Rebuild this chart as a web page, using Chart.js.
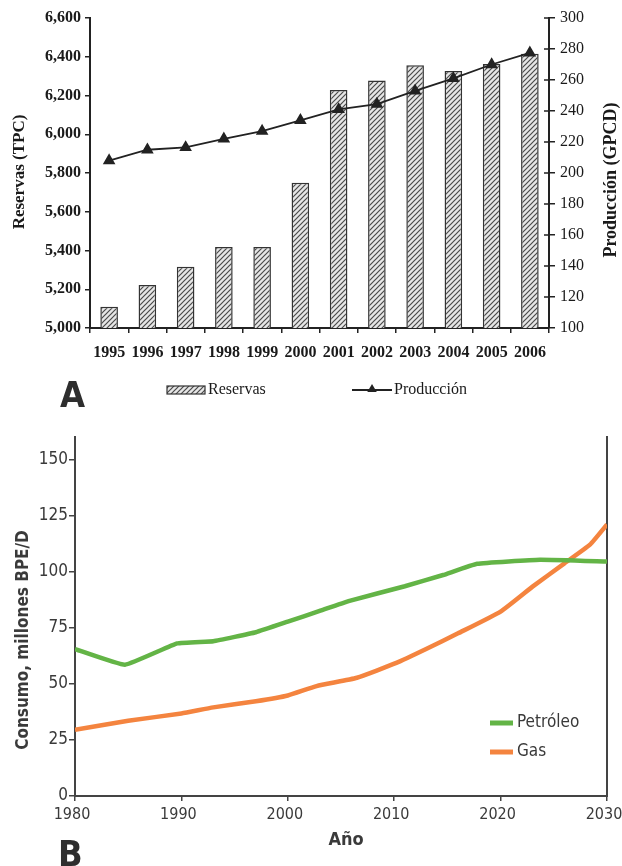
<!DOCTYPE html>
<html>
<head>
<meta charset="utf-8">
<script src="https://cdn.jsdelivr.net/npm/chart.js@4.4.1/dist/chart.umd.min.js"></script>
<style>
    html, body { margin: 0; padding: 0; background: #fff; }
    #wrap { position: relative; width: 622px; height: 866px; overflow: hidden; background: #fff; }
    .panel { position: absolute; left: 0; width: 622px; }
    #panelA { top: 0; height: 420px; }
    #panelB { top: 420px; height: 446px; }
</style>
</head>
<body>
<div id="wrap">
    <div class="panel" id="panelA"><canvas id="chartA" width="622" height="420"></canvas></div>
    <div class="panel" id="panelB"><canvas id="chartB" width="622" height="446"></canvas></div>
</div>
<script>
(function () {
    'use strict';

    // Panel A - reservas (bars, left axis) and produccion (line, right axis)
    var years = ['1995', '1996', '1997', '1998', '1999', '2000', '2001', '2002', '2003', '2004', '2005', '2006'];
    var reservas = [5110, 5222, 5316, 5418, 5418, 5750, 6228, 6278, 6356, 6326, 6362, 6416];
    var produccion = [208, 215, 216.5, 222, 227, 234, 241, 244.5, 253, 261, 270, 277.5];
    var reservasRange = [5000, 6600, 200];
    var produccionRange = [100, 300, 20];

    // Panel B - consumo (millones BPE/D)
    var petroleoYears = [1980, 1984.7, 1989.6, 1993, 1997, 2000, 2003, 2005.8, 2011, 2014.6, 2017.8, 2023.7, 2030];
    var petroleoValues = [65.5, 58.5, 68, 69, 73, 77.7, 82.5, 87, 93.5, 98.5, 103.5, 105.3, 104.5];
    var gasYears = [1980, 1985, 1990, 1993, 1997, 2000, 2002.7, 2006.5, 2010.2, 2013, 2016, 2020, 2023, 2026, 2028.4, 2030];
    var gasValues = [29.5, 33.5, 36.8, 39.5, 42.2, 44.8, 49, 52.7, 59.3, 65.5, 72.5, 82.2, 93.3, 103.7, 112, 121];
    var consumoRange = [0, 160, 25];
    var yearRange = [1980, 2030, 10];

    var serif = '"Liberation Serif", "DejaVu Serif", serif';
    var narrow = '"Liberation Sans Narrow", "DejaVu Sans Condensed", "Roboto", sans-serif';

    /**
     * Diagonal hatch fill for the bars.
     */
    function makeHatch(ctx) {
        var c = document.createElement('canvas');
        c.width = 5;
        c.height = 5;
        var g = c.getContext('2d');
        g.fillStyle = '#e6e6e6';
        g.fillRect(0, 0, 5, 5);
        g.strokeStyle = '#4a4a4a';
        g.lineWidth = 1.2;
        g.beginPath();
        g.moveTo(-1, 6); g.lineTo(6, -1);
        g.moveTo(-1, 1); g.lineTo(1, -1);
        g.moveTo(4, 6); g.lineTo(6, 4);
        g.stroke();
        return ctx.createPattern(c, 'repeat');
    }

    function vText(ctx, text, x, y, font, color) {
        ctx.save();
        ctx.translate(x, y);
        ctx.rotate(-Math.PI / 2);
        ctx.font = font;
        ctx.fillStyle = color;
        ctx.textAlign = 'center';
        ctx.textBaseline = 'middle';
        ctx.fillText(text, 0, 0);
        ctx.restore();
    }

    function triangle(ctx, x, y, r) {
        ctx.beginPath();
        ctx.moveTo(x, y - r);
        ctx.lineTo(x + r * 0.95, y + r * 0.6);
        ctx.lineTo(x - r * 0.95, y + r * 0.6);
        ctx.closePath();
        ctx.fill();
    }

    var canvasA = document.getElementById('chartA');
    var hatch = makeHatch(canvasA.getContext('2d'));

    var decorA = {
        id: 'decorA',
        afterDraw: function (chart) {
            var ctx = chart.ctx;
            var area = chart.chartArea;
            var y1 = chart.scales.y1;

            // right axis ticks cross the axis line
            ctx.save();
            ctx.strokeStyle = '#222';
            ctx.lineWidth = 1.5;
            y1.ticks.forEach(function (t) {
                var py = y1.getPixelForValue(t.value);
                ctx.beginPath();
                ctx.moveTo(area.right - 5, py);
                ctx.lineTo(area.right, py);
                ctx.stroke();
            });
            ctx.restore();

            vText(ctx, 'Reservas (TPC)', 20, 172, 'bold 17px ' + serif, '#1a1a1a');
            vText(ctx, 'Producción (GPCD)', 611, 180, 'bold 18px ' + serif, '#1a1a1a');

            // legend
            ctx.save();
            ctx.fillStyle = hatch;
            ctx.fillRect(167, 386, 38, 8);
            ctx.strokeStyle = '#333';
            ctx.lineWidth = 1.2;
            ctx.strokeRect(167, 386, 38, 8);
            ctx.fillStyle = '#1a1a1a';
            ctx.font = '16px ' + serif;
            ctx.textBaseline = 'middle';
            ctx.fillText('Reservas', 208, 390);

            ctx.strokeStyle = '#222';
            ctx.lineWidth = 1.8;
            ctx.beginPath();
            ctx.moveTo(352, 390);
            ctx.lineTo(392, 390);
            ctx.stroke();
            ctx.fillStyle = '#222';
            triangle(ctx, 372, 389, 5);
            ctx.fillStyle = '#1a1a1a';
            ctx.fillText('Producción', 394, 390);

            ctx.font = 'bold 36px ' + narrow;
            ctx.fillStyle = '#2e2e2e';
            ctx.textBaseline = 'alphabetic';
            ctx.fillText('A', 60, 407);
            ctx.restore();
        }
    };

    new Chart(canvasA, {
        type: 'bar',
        data: {
            labels: years,
            datasets: [{
                type: 'line',
                label: 'Producción',
                data: produccion,
                yAxisID: 'y1',
                order: 0,
                borderColor: '#222',
                borderWidth: 1.8,
                tension: 0,
                pointStyle: 'triangle',
                pointRadius: 5.5,
                pointBackgroundColor: '#222',
                pointBorderColor: '#222'
            }, {
                type: 'bar',
                label: 'Reservas',
                data: reservas,
                yAxisID: 'y',
                order: 1,
                backgroundColor: hatch,
                borderColor: '#333',
                borderWidth: 1.5,
                borderSkipped: false,
                barPercentage: 0.46,
                categoryPercentage: 1
            }]
        },
        options: {
            responsive: false,
            animation: false,
            layout: {
                padding: { top: 18, left: 0, right: 0, bottom: 0 }
            },
            plugins: {
                legend: { display: false },
                tooltip: { enabled: false }
            },
            scales: {
                x: {
                    grid: { drawOnChartArea: false, tickLength: 5, color: '#222', lineWidth: 1.5 },
                    border: { color: '#222', width: 2 },
                    ticks: {
                        color: '#1a1a1a',
                        padding: 10,
                        maxRotation: 0,
                        font: { family: serif, size: 16, weight: 'bold' }
                    },
                    afterFit: function (s) {
                        s.height = 92;
                        s.paddingLeft = 0;
                        s.paddingRight = 0;
                    }
                },
                y: {
                    position: 'left',
                    min: reservasRange[0],
                    max: reservasRange[1],
                    grid: { drawOnChartArea: false, tickLength: 5, color: '#222', lineWidth: 1.5 },
                    border: { color: '#222', width: 2 },
                    ticks: {
                        stepSize: reservasRange[2],
                        color: '#1a1a1a',
                        padding: 4,
                        font: { family: serif, size: 16, weight: 'bold' },
                        callback: function (v) { return v.toLocaleString('en-US'); }
                    },
                    afterFit: function (s) {
                        s.width = 90;
                        s.paddingTop = 0;
                        s.paddingBottom = 0;
                    }
                },
                y1: {
                    position: 'right',
                    min: produccionRange[0],
                    max: produccionRange[1],
                    grid: { drawOnChartArea: false, tickLength: 6, color: '#222', lineWidth: 1.5 },
                    border: { color: '#222', width: 2 },
                    ticks: {
                        stepSize: produccionRange[2],
                        color: '#1a1a1a',
                        padding: 5,
                        font: { family: serif, size: 16 }
                    },
                    afterFit: function (s) {
                        s.width = 73;
                        s.paddingTop = 0;
                        s.paddingBottom = 0;
                    }
                }
            }
        },
        plugins: [decorA]
    });

    var decorB = {
        id: 'decorB',
        afterDraw: function (chart) {
            var ctx = chart.ctx;
            vText(ctx, 'Consumo, millones BPE/D', 24, 220, 'bold 17px ' + narrow, '#3a3a3a');

            ctx.save();
            ctx.font = 'bold 18px ' + narrow;
            ctx.fillStyle = '#3a3a3a';
            ctx.textAlign = 'center';
            ctx.fillText('Año', 346, 425);

            // legend inside the plot
            var items = [['Petróleo', '#63b446', 303], ['Gas', '#f4843f', 332]];
            ctx.textAlign = 'left';
            ctx.textBaseline = 'middle';
            ctx.font = '17px ' + narrow;
            items.forEach(function (it) {
                ctx.strokeStyle = it[1];
                ctx.lineWidth = 5;
                ctx.beginPath();
                ctx.moveTo(490, it[2]);
                ctx.lineTo(513, it[2]);
                ctx.stroke();
                ctx.fillStyle = '#3a3a3a';
                ctx.fillText(it[0], 517, it[2]);
            });

            ctx.font = 'bold 36px ' + narrow;
            ctx.textBaseline = 'alphabetic';
            ctx.fillStyle = '#2e2e2e';
            ctx.fillText('B', 58, 446);
            ctx.restore();
        }
    };

    function points(xs, ys) {
        return xs.map(function (x, i) {
            return { x: x, y: ys[i] };
        });
    }

    new Chart(document.getElementById('chartB'), {
        type: 'line',
        data: {
            datasets: [{
                label: 'Petróleo',
                data: points(petroleoYears, petroleoValues),
                borderColor: '#63b446',
                borderWidth: 4.5,
                pointRadius: 0,
                tension: 0.1
            }, {
                label: 'Gas',
                data: points(gasYears, gasValues),
                borderColor: '#f4843f',
                borderWidth: 4.5,
                pointRadius: 0,
                tension: 0.15
            }]
        },
        options: {
            responsive: false,
            animation: false,
            layout: {
                padding: { top: 17, left: 0, right: 0, bottom: 0 }
            },
            plugins: {
                legend: { display: false },
                tooltip: { enabled: false }
            },
            scales: {
                x: {
                    type: 'linear',
                    min: yearRange[0],
                    max: yearRange[1],
                    grid: { drawOnChartArea: false, tickLength: 5, color: '#444', lineWidth: 1.5 },
                    border: { color: '#444', width: 2 },
                    ticks: {
                        stepSize: yearRange[2],
                        color: '#3a3a3a',
                        padding: 4,
                        maxRotation: 0,
                        labelOffset: -3,
                        font: { family: narrow, size: 16 },
                        callback: function (v) { return String(v); }
                    },
                    afterFit: function (s) {
                        s.height = 70;
                        s.paddingLeft = 0;
                        s.paddingRight = 0;
                    }
                },
                y: {
                    min: consumoRange[0],
                    max: consumoRange[1],
                    grid: { drawOnChartArea: false, tickLength: 6, color: '#444', lineWidth: 1.5 },
                    border: { color: '#444', width: 2 },
                    ticks: {
                        stepSize: consumoRange[2],
                        includeBounds: false,
                        color: '#3a3a3a',
                        padding: 1,
                        font: { family: narrow, size: 17 }
                    },
                    afterFit: function (s) {
                        s.width = 75;
                        s.paddingTop = 0;
                        s.paddingBottom = 0;
                    }
                },
                yR: {
                    position: 'right',
                    min: consumoRange[0],
                    max: consumoRange[1],
                    grid: { display: false, drawTicks: false },
                    border: { display: true, color: '#444', width: 2 },
                    ticks: { display: false },
                    afterFit: function (s) {
                        s.width = 15;
                    }
                }
            }
        },
        plugins: [decorB]
    });

})();
</script>
</body>
</html>
